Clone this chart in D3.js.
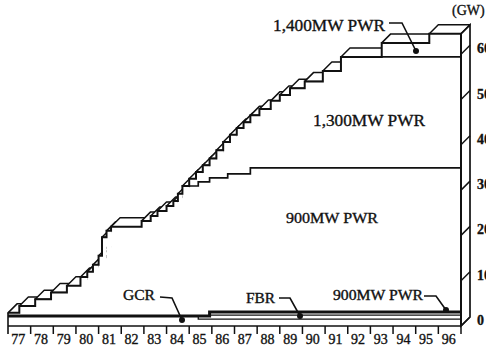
<!DOCTYPE html>
<html>
<head>
<meta charset="utf-8">
<script src="https://cdn.jsdelivr.net/npm/d3@7"></script>
<style>
  body { margin: 0; background: #fff; }
  svg text { font-family: "Liberation Serif", "Times New Roman", serif; fill: #111; stroke: #111; stroke-width: 0.35; }
</style>
</head>
<body>
<div id="chart"></div>
<script>
// year labels on the x axis
const yearLabels = ["77","78","79","80","81","82","83","84","85","86",
                    "87","88","89","90","91","92","93","94","95","96"];
const yTicks = [0, 10, 20, 30, 40, 50, 60];

// total installed capacity (GW), step starts
const totalYears = [1977.0, 1977.5, 1978.2, 1978.9, 1979.6, 1980.2, 1980.5, 1980.75, 1981.0, 1981.15,
                    1981.35, 1981.55, 1982.9, 1983.3, 1983.6, 1984.0, 1984.3, 1984.5, 1984.7, 1985.0,
                    1985.3, 1985.6, 1985.9, 1986.2, 1986.5, 1986.8, 1987.1, 1987.4, 1987.7, 1988.1,
                    1988.6, 1989.0, 1989.45, 1990.1, 1990.9, 1991.7, 1993.5, 1995.6];
const totalGW    = [2.9, 4.4, 5.9, 7.4, 8.9, 10.8, 12.0, 13.5, 15.5, 19.6,
                    21.0, 21.9, 23.2, 24.3, 25.4, 26.5, 27.6, 29.2, 30.9, 32.5,
                    34.0, 35.5, 37.0, 38.8, 40.6, 42.2, 43.7, 45.0, 46.5, 47.9,
                    49.7, 51.0, 52.5, 54.0, 56.3, 59.4, 62.5, 64.5];

// top of 900MW PWR layer (cumulative)
const pwr900Years = [1984.7, 1985.4, 1985.9, 1986.7, 1987.7];
const pwr900GW    = [30.9, 31.8, 32.7, 33.6, 34.9];

// top of 1,300MW PWR layer (cumulative)
const pwr1300Years = [1991.7];
const pwr1300GW    = [59.4];

// small layers at the bottom (cumulative)
const gcrYears  = [1977, 1985.4];
const gcrGW     = [2.2, 1.5];
const fbrYears  = [1985.9];
const fbrGW     = [2.4];
const baseYears = [1977, 1985.9];
const baseGW    = [2.2, 3.1];

const W = 486, H = 347, DX = 9, DY = -9, END = 1997;

const svg = d3.select("#chart").append("svg").attr("width", W).attr("height", H);

const x = d3.scaleLinear().domain([1977, END]).range([8, 461]);
const y = d3.scaleLinear().domain([0, 60]).range([326, 54.2]);

const stepLine = d3.line().x(d => x(d[0])).y(d => y(d[1])).curve(d3.curveStepAfter);
function steps(ys, vs) {
  const pts = ys.map((t, i) => [t, vs[i]]);
  pts.push([END, vs[vs.length - 1]]);
  return pts;
}

// 3D blocks, drawn left to right
const blocks = totalYears.map((t, i) => ({ t0: t, t1: i < totalYears.length - 1 ? totalYears[i + 1] : END, v: totalGW[i] }));
const g = svg.append("g");
blocks.forEach((b, i) => {
  const x0 = x(b.t0), x1 = x(b.t1), yv = y(b.v);
  g.append("path")
    .attr("d", `M${x0},${yv}L${x1},${yv}L${x1 + DX},${yv + DY}L${x0 + DX},${yv + DY}Z`)
    .attr("fill", "#fff").attr("stroke", "#111").attr("stroke-width", 1.5)
    .attr("stroke-linejoin", "round");
  g.append("rect").attr("x", x0).attr("y", yv).attr("width", x1 - x0).attr("height", y(0) - yv)
    .attr("fill", "#fff");
  if (i === blocks.length - 1) {
    g.append("path")
      .attr("d", `M${x1},${yv}L${x1 + DX},${yv + DY}L${x1 + DX},${y(0) + DY}L${x1},${y(0)}Z`)
      .attr("fill", "#fff").attr("stroke", "#111").attr("stroke-width", 1.7);
  }
});

// front outline
g.append("path").attr("d", stepLine(steps(totalYears, totalGW)) + `V${y(0)}`)
  .attr("fill", "none").attr("stroke", "#111").attr("stroke-width", 2);

// inner layer lines
[[pwr900Years, pwr900GW, 1.7], [pwr1300Years, pwr1300GW, 1.7],
 [gcrYears, gcrGW, 1.3], [fbrYears, fbrGW, 1.3], [baseYears, baseGW, 3]].forEach(([ys, vs, w]) => {
  g.append("path").attr("d", stepLine(steps(ys, vs)))
    .attr("fill", "none").attr("stroke", "#111").attr("stroke-width", w);
});

// right depth axis ticks
yTicks.forEach(v => {
  g.append("line").attr("x1", x(END)).attr("y1", y(v)).attr("x2", x(END) + DX).attr("y2", y(v) + DY)
    .attr("stroke", "#111").attr("stroke-width", 1.5);
  g.append("text").attr("x", x(END) + DX + 7).attr("y", y(v) + DY + 8)
    .attr("font-size", 14).attr("font-weight", "bold").text(v);
});
g.append("text").attr("x", 452).attr("y", 15).attr("font-size", 14).text("(GW)");

// baseline and year ticks
g.append("line").attr("x1", x(1977)).attr("x2", x(END)).attr("y1", y(0)).attr("y2", y(0))
  .attr("stroke", "#111").attr("stroke-width", 1.6);
g.append("line").attr("x1", x(1977)).attr("x2", x(1977)).attr("y1", y(totalGW[0])).attr("y2", 334)
  .attr("stroke", "#111").attr("stroke-width", 1.6);
d3.range(1978, END + 1).forEach(t => {
  g.append("line").attr("x1", x(t)).attr("x2", x(t)).attr("y1", y(0)).attr("y2", 334)
    .attr("stroke", "#111").attr("stroke-width", 1.5);
});
yearLabels.forEach((lab, i) => {
  g.append("text").attr("x", x(1977 + i + 0.5) - 1).attr("y", 344)
    .attr("text-anchor", "middle").attr("font-size", 14).text(lab);
});

// series labels
function label(txt, x0, yb, size, len) {
  g.append("text").attr("x", x0).attr("y", yb).attr("font-size", size)
    .attr("textLength", len).attr("lengthAdjust", "spacingAndGlyphs").text(txt);
}
label("1,400MW PWR", 273, 31, 17, 112);
label("1,300MW PWR", 313, 126, 17, 112);
label("900MW PWR", 286, 223, 15, 92);
label("GCR", 123, 300, 14, 32);
label("FBR", 246, 303, 14, 29);
label("900MW PWR", 333, 300, 14, 90);

// pointers
const pointers = [
  [[389, 23], [402, 23], [416, 51]],
  [[160, 297], [172, 298], [182, 320]],
  [[279, 298], [290, 298], [300, 316]],
  [[424, 296], [436, 296], [446, 310]]
];
pointers.forEach(p => {
  g.append("path").attr("d", d3.line()(p)).attr("fill", "none")
    .attr("stroke", "#111").attr("stroke-width", 1.6);
  g.append("circle").attr("cx", p[2][0]).attr("cy", p[2][1]).attr("r", 3).attr("fill", "#111");
});
</script>
</body>
</html>
